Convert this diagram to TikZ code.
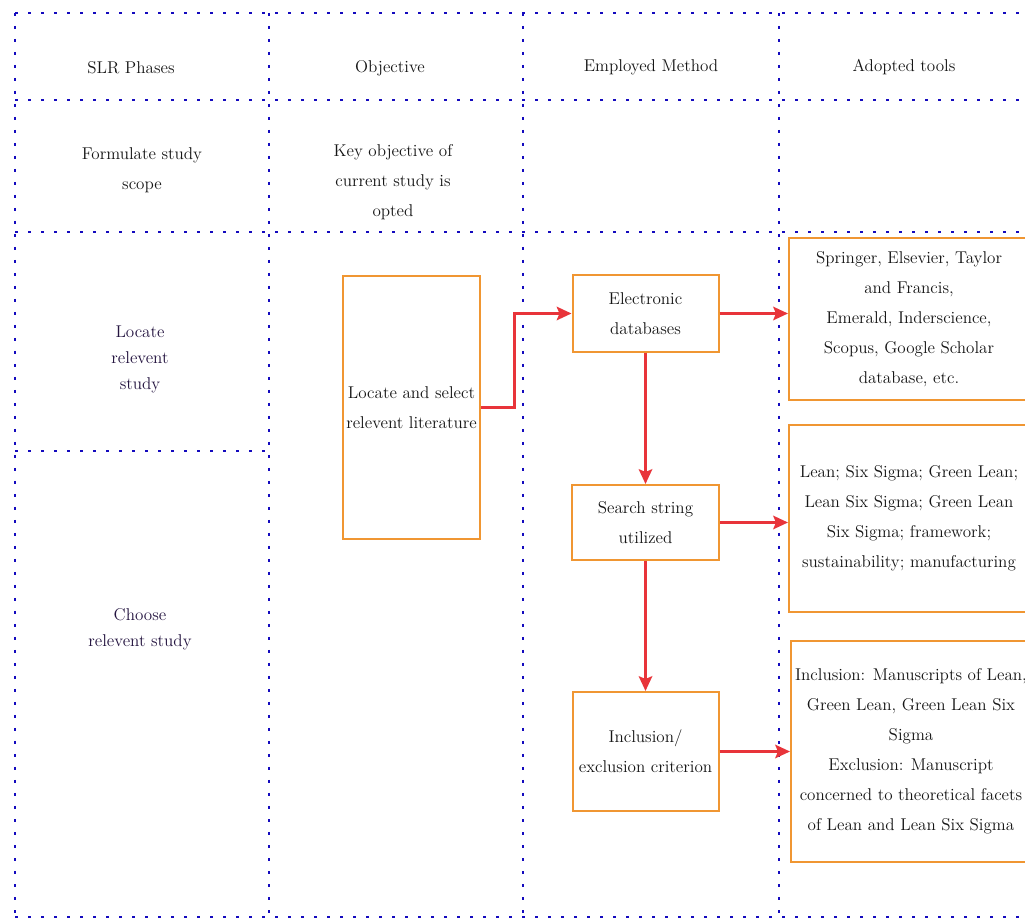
\documentclass[tikz,border=0pt]{standalone}
\usetikzlibrary{arrows.meta}
\definecolor{gridblue}{RGB}{20,10,190}
\definecolor{boxorange}{RGB}{240,150,50}
\definecolor{flowred}{RGB}{232,52,58}
\definecolor{txtgray}{RGB}{22,22,22}
\definecolor{txtpurple}{RGB}{36,20,64}
\tikzset{
  gridline/.style={gridblue, line width=2.1pt, dash pattern=on 2.1pt off 7.65pt},
  lbl/.style={align=center, text=txtgray, font=\fontsize{12.8}{22.5}\selectfont},
  phaselbl/.style={lbl, text=txtpurple, font=\fontsize{12.8}{19.5}\selectfont},
  methodbox/.style={lbl, draw=boxorange, line width=1.5pt, inner sep=2pt},
  toolbox/.style={methodbox, minimum width=180pt},
  flow/.style={flowred, line width=2.25pt, -{Stealth[length=11pt,width=10pt,inset=2pt]}}
}

\begin{document}
\begin{tikzpicture}[x=0.75pt,y=-0.75pt]
    \useasboundingbox (0,0) rectangle (1025,919);
    \fill[white] (0,0) rectangle (1025,919);

    \foreach \gx in {15,269,523,779} \draw[gridline] (\gx,13) -- (\gx,919);
    \foreach \gy in {13,100,232,917} \draw[gridline] (15,\gy) -- (1030,\gy);
    \draw[gridline] (15,451) -- (269,451);

    % column heads
    \node[lbl] (hphase) at (131,68) {SLR Phases};
    \node[lbl] (hobj) at (390,68) {Objective};
    \node[lbl] (hmeth) at (651,67) {Employed Method};
    \node[lbl] (htool) at (904,67) {Adopted tools};

    \node[lbl] (pscope) at (142,170) {Formulate study\\scope};
    \node[lbl] (oscope) at (393,182) {Key objective of\\current study is\\opted};
    \node[phaselbl] (plocate) at (140,359) {Locate\\relevent\\study};
    \node[phaselbl] (pchoose) at (140,629) {Choose\\relevent study};

    \node[methodbox, minimum width=102.75pt, minimum height=197.25pt] (lsel) at (411.5,407.5) {Locate and select\\relevent literature};

    \node[methodbox, minimum width=109.5pt, minimum height=57.75pt] (edb) at (645.5,313.5) {Electronic\\databases};
    \node[methodbox, minimum width=110.25pt, minimum height=56.25pt] (sstr) at (645.5,522.5) {Search string\\utilized};
    \node[methodbox, minimum width=109.5pt, minimum height=89.25pt] (incl) at (645.5,751.5) {Inclusion/\\exclusion criterion};

    \node[toolbox, minimum height=121.5pt] (tdb) at (909,319) {Springer, Elsevier, Taylor\\and Francis,\\Emerald, Inderscience,\\Scopus, Google Scholar\\database, etc.};
    \node[toolbox, minimum height=140.25pt] (tkw) at (909,518.5) {Lean; Six Sigma; Green Lean;\\Lean Six Sigma; Green Lean\\Six Sigma; framework;\\sustainability; manufacturing};
    \node[toolbox, minimum height=165.75pt] (tcr) at (911,751.5) {Inclusion: Manuscripts of Lean,\\Green Lean, Green Lean Six\\Sigma\\Exclusion: Manuscript\\concerned to theoretical facets\\of Lean and Lean Six Sigma};

    \coordinate (bend) at (514,0);
    \draw[flow] (lsel.east) -- (bend |- lsel.east) |- (edb.west);
    \draw[flow] (edb.east) -- (edb.east -| tdb.west);
    \draw[flow] (edb.south) -- (sstr.north);
    \draw[flow] (sstr.east) -- (sstr.east -| tkw.west);
    \draw[flow] (sstr.south) -- (incl.north);
    \draw[flow] (incl.east) -- (incl.east -| tcr.west);

\end{tikzpicture}
\end{document}
